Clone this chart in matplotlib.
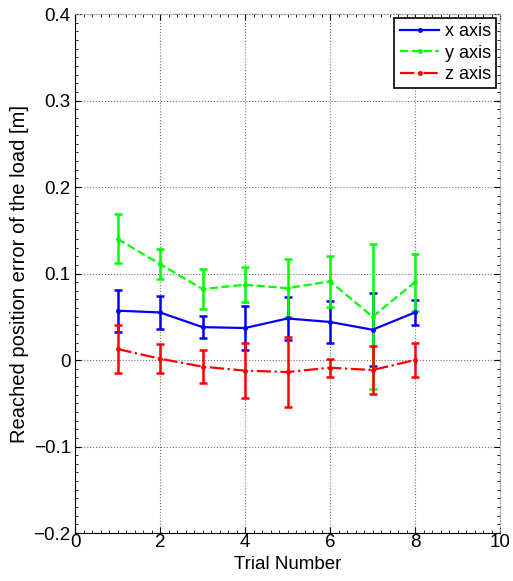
import numpy as np
import matplotlib.pyplot as plt
from matplotlib.ticker import MultipleLocator

plt.rcParams['font.family'] = ['Liberation Sans', 'DejaVu Sans']

# datos
trial = [1, 2, 3, 4, 5, 6, 7, 8]
x_mean = [0.057, 0.055, 0.038, 0.037, 0.048, 0.044, 0.035, 0.055]
x_err = [0.0245, 0.0195, 0.0125, 0.0254, 0.0245, 0.024, 0.042, 0.014]
y_mean = [0.140, 0.111, 0.082, 0.087, 0.083, 0.091, 0.050, 0.090]
y_err = [0.0283, 0.0175, 0.0232, 0.020, 0.0335, 0.0298, 0.0838, 0.033]
z_mean = [0.0127, 0.0015, -0.0077, -0.0123, -0.0139, -0.0089, -0.0116, 0.000]
z_err = [0.0277, 0.017, 0.019, 0.0315, 0.041, 0.0103, 0.028, 0.0195]
labels = ['x axis', 'y axis', 'z axis']

fig = plt.figure(figsize=(5.13, 5.81), dpi=100)
ax = fig.add_axes([0.1462, 0.0826, 0.8285, 0.8933])

kw = dict(lw=1.6, marker='.', ms=5, capsize=3, capthick=1.8, elinewidth=1.8)
ex = ax.errorbar(trial, x_mean, yerr=x_err, color=(0, 0, 1), ls='-', **kw)
ey = ax.errorbar(trial, y_mean, yerr=y_err, color=(0, 1, 0), ls='--', **kw)
ez = ax.errorbar(trial, z_mean, yerr=z_err, color=(1, 0, 0), ls='-.', **kw)

ax.set_xlim(0, 10)
ax.set_ylim(-0.2, 0.4)
ax.set_xticks([0, 2, 4, 6, 8, 10])
ax.set_yticks([-0.2, -0.1, 0, 0.1, 0.2, 0.3, 0.4])
ax.set_yticklabels(['\u22120.2', '\u22120.1', '0', '0.1', '0.2', '0.3', '0.4'])
ax.xaxis.set_minor_locator(MultipleLocator(0.2))
ax.yaxis.set_minor_locator(MultipleLocator(0.01))
ax.tick_params(which='both', direction='in', top=True, right=True, labelsize=13.5)
ax.tick_params(axis='x', pad=1)
ax.tick_params(axis='y', pad=3)
ax.tick_params(which='major', length=4)
ax.tick_params(which='minor', length=2, width=0.6)
ax.grid(True, which='major', ls=':', color='0.45', lw=0.8)
for s in ['top', 'right']:
    ax.spines[s].set_color('0.6')
    ax.spines[s].set_linestyle(':')

ax.set_xlabel('Trial Number', fontsize=13.5, labelpad=3)
ax.set_ylabel('Reached position error of the load [m]', fontsize=14.5, labelpad=3)

leg = ax.legend([ex[0], ey[0], ez[0]], labels, loc='upper right', fontsize=13,
                numpoints=1, fancybox=False, framealpha=1, edgecolor='black',
                handlelength=2.2, handletextpad=0.3, labelspacing=0.25,
                borderpad=0.3, borderaxespad=0.2)
leg.get_frame().set_linewidth(1.2)

fig.savefig('out.png', dpi=100)
